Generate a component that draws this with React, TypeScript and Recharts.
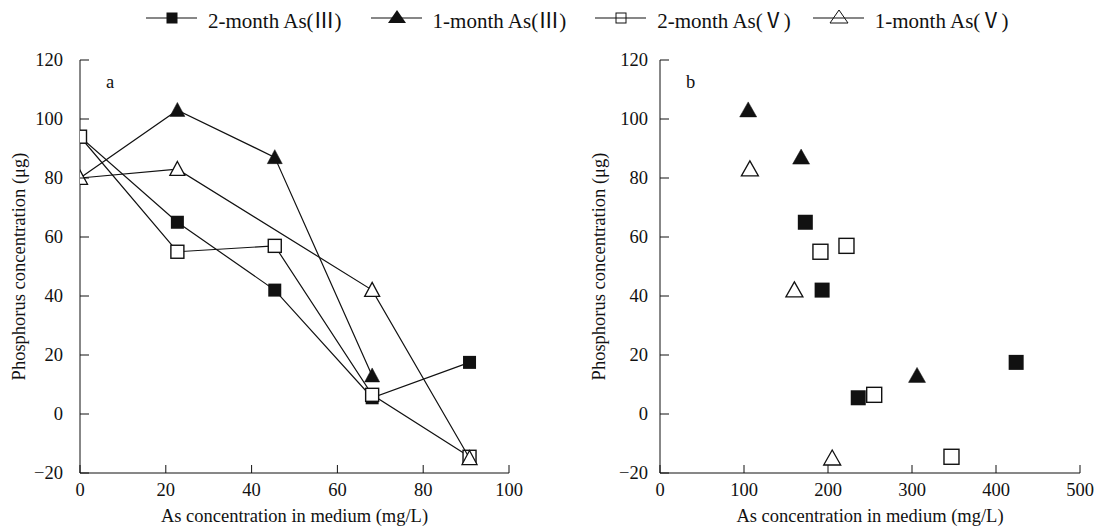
import React from "react";
import { ScatterChart, Scatter, XAxis, YAxis, Customized } from "recharts";

// ---------- data ----------
const seriesPrefix = ["2-month As(", "1-month As(", "2-month As(", "1-month As("];
const seriesNumeral = ["Ⅲ", "Ⅲ", "Ⅴ", "Ⅴ"];
const seriesNames = seriesPrefix.map((p, i) => p + seriesNumeral[i] + ")");

// Panel a: As concentration in medium (x) vs phosphorus (y)
const aSqFilledX = [0, 22.7, 45.4, 68.1, 90.8];
const aSqFilledY = [94, 65, 42, 5.5, 17.5];
const aTriFilledX = [0, 22.7, 45.4, 68.1];
const aTriFilledY = [80, 103, 87, 13];
const aSqOpenX = [0, 22.7, 45.4, 68.1, 90.8];
const aSqOpenY = [94, 55, 57, 6.5, -14.5];
const aTriOpenX = [0, 22.7, 68.1, 90.8];
const aTriOpenY = [80, 83, 42, -15];

// Panel b
const bSqFilledX = [173, 193, 236, 424];
const bSqFilledY = [65, 42, 5.5, 17.5];
const bTriFilledX = [105, 168, 306];
const bTriFilledY = [103, 87, 13];
const bSqOpenX = [191, 222, 255, 347];
const bSqOpenY = [55, 57, 6.5, -14.5];
const bTriOpenX = [107, 160, 205];
const bTriOpenY = [83, 42, -15];

const yTicks = [-20, 0, 20, 40, 60, 80, 100, 120];
const xTicksA = [0, 20, 40, 60, 80, 100];
const xTicksB = [0, 100, 200, 300, 400, 500];

const xTitle = "As concentration in medium (mg/L)";
const yTitle = "Phosphorus concentration (μg)";

const zip = (xs: number[], ys: number[]) => xs.map((x, i) => ({ x, y: ys[i] }));

// ---------- styles ----------
const FONT = "'Liberation Serif', serif";
const CJK = "Noto Sans CJK SC";
const FS = 18.5;
const LEG_FS = 21;
const INK = "#111";

const fmt = (v: number) => (v < 0 ? "\u2212" + Math.abs(v) : String(v));

const SquareShape = (filled: boolean, s: number) => (p: any) => {
  const { cx, cy } = p;
  if (cx == null || cy == null) return <g />;
  return (
    <rect
      x={cx - s / 2}
      y={cy - s / 2}
      width={s}
      height={s}
      fill={filled ? INK : "#fff"}
      stroke={INK}
      strokeWidth={filled ? 0 : 1.4}
    />
  );
};

const TriShape = (filled: boolean, w: number, h: number) => (p: any) => {
  const { cx, cy } = p;
  if (cx == null || cy == null) return <g />;
  const top = cy - h * 0.55;
  const bot = cy + h * 0.45;
  const pts = `${cx},${top} ${cx + w / 2},${bot} ${cx - w / 2},${bot}`;
  return <polygon points={pts} fill={filled ? INK : "#fff"} stroke={INK} strokeWidth={filled ? 0.5 : 1.3} strokeLinejoin="miter" />;
};

const makeYTick = (gap: number) => (p: any) => {
  const { x, y, payload } = p;
  return (
    <g>
      <line x1={x} x2={x + 9} y1={y} y2={y} stroke={INK} strokeWidth={1} />
      <text x={x - gap} y={y} dy="0.35em" textAnchor="end" fontFamily={FONT} fontSize={FS} fill={INK}>
        {fmt(payload.value)}
      </text>
    </g>
  );
};

const XTick = (p: any) => {
  const { x, y, payload } = p;
  return (
    <g>
      <line x1={x} x2={x} y1={y} y2={y - 8} stroke={INK} strokeWidth={1} />
      <text x={x} y={y + 23} textAnchor="middle" fontFamily={FONT} fontSize={FS} fill={INK}>
        {fmt(payload.value)}
      </text>
    </g>
  );
};

const xLabel = (p: any) => {
  const vb = p.viewBox || {};
  return (
    <text x={vb.x + vb.width / 2} y={vb.y + 49} textAnchor="middle" fontFamily={FONT} fontSize={FS} fill={INK}>
      {xTitle}
    </text>
  );
};

const makeYLabel = (dx: number) => (p: any) => {
  const vb = p.viewBox || {};
  const cx = vb.x + dx;
  const cy = vb.y + vb.height / 2;
  return (
    <text
      x={cx}
      y={cy}
      transform={`rotate(-90 ${cx} ${cy})`}
      textAnchor="middle"
      fontFamily={FONT}
      fontSize={FS}
      fill={INK}
    >
      {yTitle}
    </text>
  );
};

const lineStyle = { stroke: INK, strokeWidth: 1.2 };

// ---------- legend ----------
const LegendIcon = ({ kind }: { kind: number }) => {
  const w = 51;
  const cx = 26;
  const cy = 10;
  let marker: React.ReactNode = null;
  if (kind === 0) marker = <rect x={cx - 5.5} y={cy - 5.5} width={11} height={11} fill={INK} />;
  if (kind === 1) marker = <polygon points={`${cx},${cy - 8} ${cx + 9},${cy + 5} ${cx - 9},${cy + 5}`} fill={INK} />;
  if (kind === 2) marker = <rect x={cx - 5} y={cy - 5} width={10} height={10} fill="none" stroke={INK} strokeWidth={1} />;
  if (kind === 3)
    marker = <polygon points={`${cx},${cy - 8} ${cx + 9},${cy + 5} ${cx - 9},${cy + 5}`} fill="none" stroke={INK} strokeWidth={1} />;
  return (
    <svg width={w} height={20} style={{ display: "block" }}>
      <line x1={0} x2={w} y1={cy} y2={cy} stroke={INK} strokeWidth={1.2} />
      {marker}
    </svg>
  );
};

const legendGaps = [29, 29, 22, 0];

const TopLegend = () => (
  <div
    style={{
      position: "absolute",
      left: 146,
      top: 8,
      height: 20,
      display: "flex",
      alignItems: "center",
      fontFamily: FONT,
      fontSize: LEG_FS,
      lineHeight: "20px",
      color: INK,
      whiteSpace: "nowrap",
    }}
  >
    {seriesNames.map((n, i) => (
      <div key={n} style={{ display: "flex", alignItems: "center", marginRight: legendGaps[i] }}>
        <LegendIcon kind={i} />
        <span style={{ marginLeft: 11, position: "relative", top: 2 }}>
          {seriesPrefix[i]}
          <span style={{ fontFamily: CJK }}>{seriesNumeral[i]}</span>)
        </span>
      </div>
    ))}
  </div>
);

// ---------- panels ----------
const Y_AXIS_W = 60;

const Panel = ({ width, margin, xDomain, xTicks, sqF, triF, sqO, triO, withLines, letter, tickGap, yLabelDx, sq, triW, triH }: any) => {
  const letterX = margin.left + Y_AXIS_W + 26;
  const letterY = margin.top + 28;
  return (
    <ScatterChart width={width} height={526} margin={margin}>
      <XAxis
        type="number"
        dataKey="x"
        domain={xDomain}
        ticks={xTicks}
        allowDataOverflow
        axisLine={{ stroke: INK, strokeWidth: 1 }}
        tickLine={false}
        tickSize={0}
        tickMargin={0}
        tick={XTick}
        height={40}
        interval={0}
        label={xLabel}
      />
      <YAxis
        type="number"
        dataKey="y"
        domain={[-20, 120]}
        ticks={yTicks}
        allowDataOverflow
        axisLine={{ stroke: INK, strokeWidth: 1 }}
        tickLine={false}
        tickSize={0}
        tickMargin={0}
        tick={makeYTick(tickGap)}
        width={Y_AXIS_W}
        interval={0}
        label={makeYLabel(yLabelDx)}
      />
      <Scatter name={seriesNames[0]} data={sqF} shape={SquareShape(true, sq)} line={withLines ? lineStyle : false} isAnimationActive={false} />
      <Scatter name={seriesNames[1]} data={triF} shape={TriShape(true, triW, triH)} line={withLines ? lineStyle : false} isAnimationActive={false} />
      <Scatter name={seriesNames[2]} data={sqO} shape={SquareShape(false, sq)} line={withLines ? lineStyle : false} isAnimationActive={false} />
      <Scatter name={seriesNames[3]} data={triO} shape={TriShape(false, triW, triH)} line={withLines ? lineStyle : false} isAnimationActive={false} />
      <Customized
        component={() => (
          <text x={letterX} y={letterY} fontFamily={FONT} fontSize={FS} fill={INK}>
            {letter}
          </text>
        )}
      />
    </ScatterChart>
  );
};

export default function App() {
  return (
    <div style={{ position: "absolute", left: 0, top: 0, width: 1094, height: 526, background: "#fff", overflow: "hidden" }}>
      <div style={{ position: "absolute", left: 0, top: 0 }}>
        <Panel
          width={560}
          margin={{ top: 60, right: 51, bottom: 13, left: 20 }}
          xDomain={[0, 100]}
          xTicks={xTicksA}
          sqF={zip(aSqFilledX, aSqFilledY)}
          triF={zip(aTriFilledX, aTriFilledY)}
          sqO={zip(aSqOpenX, aSqOpenY)}
          triO={zip(aTriOpenX, aTriOpenY)}
          withLines
          letter="a"
          tickGap={17}
          yLabelDx={5}
          sq={13}
          triW={15}
          triH={14}
        />
      </div>
      <div style={{ position: "absolute", left: 560, top: 0 }}>
        <Panel
          width={534}
          margin={{ top: 60, right: 14, bottom: 13, left: 40 }}
          xDomain={[0, 500]}
          xTicks={xTicksB}
          sqF={zip(bSqFilledX, bSqFilledY)}
          triF={zip(bTriFilledX, bTriFilledY)}
          sqO={zip(bSqOpenX, bSqOpenY)}
          triO={zip(bTriOpenX, bTriOpenY)}
          withLines={false}
          letter="b"
          tickGap={12}
          yLabelDx={5}
          sq={15}
          triW={17}
          triH={15}
        />
      </div>
      <TopLegend />
    </div>
  );
}
